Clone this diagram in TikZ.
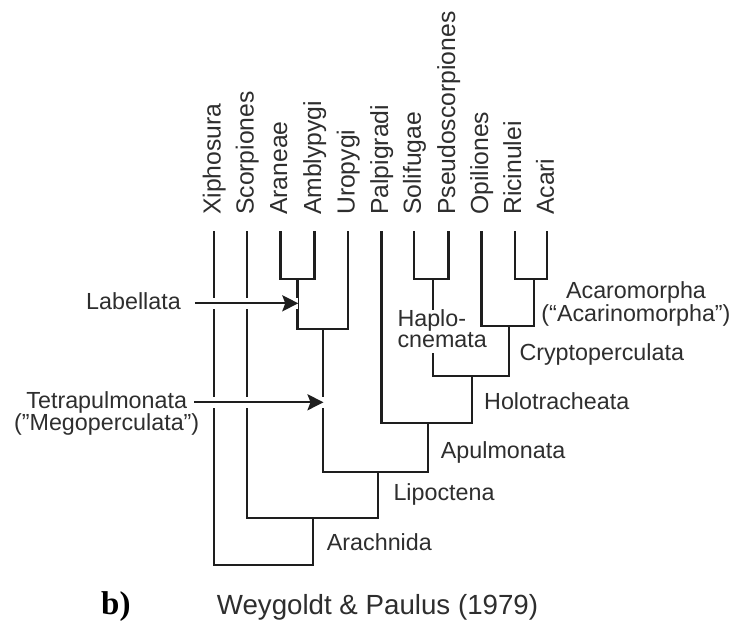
\documentclass[tikz,border=0pt]{standalone}
\usepackage{fontspec}
\setmainfont{Liberation Sans}
\newfontfamily\timesfam{Liberation Serif}
\usetikzlibrary{arrows.meta}
\definecolor{ink}{HTML}{1E1E1E}
\definecolor{txt}{HTML}{2E2E2E}
\begin{document}
\begin{tikzpicture}[x=1pt,y=-1pt,
  br/.style={draw=ink,line width=2.3pt,line cap=rect,line join=miter},
  lab/.style={inner sep=0pt,text=txt,font=\fontsize{23.3}{23.3}\selectfont},
  leaf/.style={inner sep=0pt,text=txt,rotate=90,anchor=base west,font=\fontsize{24.7}{24.7}\selectfont},
  arr/.style={draw=ink,line width=2.3pt,-{Stealth[length=16pt,width=16pt,inset=3pt]},
    preaction={draw=white,line width=11pt,-}}]
\useasboundingbox[fill=white] (0,0) rectangle (737,621);
% leaf coordinates (tops)
\foreach \n/\x in {xi/214,sc/247,ar/280.6,am/314.5,ur/348,pa/381.5,so/414.3,ps/448.5,op/481.5,ri/514.7,ac/547.3}{
  \coordinate (\n) at (\x,232);
}
% leaf labels
\node[leaf] (lxi) at (220.5,215) {Xiphosura};
\node[leaf] (lsc) at (253.5,215) {Scorpiones};
\node[leaf] (lar) at (287.1,215) {Araneae};
\node[leaf] (lam) at (321,215) {Amblypygi};
\node[leaf] (lur) at (354.5,215) {Uropygi};
\node[leaf] (lpa) at (388,215) {Palpigradi};
\node[leaf] (lso) at (420.8,215) {Solifugae};
\node[leaf] (lps) at (455,215) {Pseudoscorpiones};
\node[leaf] (lop) at (488,215) {Opiliones};
\node[leaf] (lri) at (521.2,215) {Ricinulei};
\node[leaf] (lac) at (553.8,215) {Acari};
% internal node coordinates
\coordinate (lab) at (297.5,279);
\coordinate (tet) at (323,329.3);
\coordinate (hap) at (433,279);
\coordinate (acm) at (534,279);
\coordinate (cry) at (509.3,326);
\coordinate (hol) at (471.7,376);
\coordinate (apu) at (428.3,423.3);
\coordinate (lip) at (378.3,471.7);
\coordinate (ara) at (313.3,518.3);
\coordinate (root) at (313.3,565);
\coordinate (hapa) at (433,309);
\coordinate (hapb) at (433,354);
% branches
\draw[br] (ar) |- (lab) -| (am);
\draw[br] (so) |- (hap) -| (ps);
\draw[br] (ri) |- (acm) -| (ac);
\draw[br] (lab) |- (tet) -| (ur);
\draw[br] (op) |- (cry) -| (acm);
\draw[br] (hap) -- (hapa);
\draw[br] (hapb) |- (hol) -| (cry);
\draw[br] (pa) |- (apu) -| (hol);
\draw[br] (tet) |- (lip) -| (apu);
\draw[br] (sc) |- (ara) -| (lip);
\draw[br] (xi) |- (root) -- (ara);
% arrows
\node[lab,anchor=base west] (tlab) at (86,309.3) {Labellata};
\coordinate (labtip) at (298.3,303.3);
\draw[arr] (tlab.east |- labtip) ++(14,0) -- (labtip);
\node[lab,anchor=base] (ttet1) at (106.7,408.3) {Tetrapulmonata};
\node[lab,anchor=base] (ttet2) at (106.7,430) {("Megoperculata”)};
\coordinate (tettip) at (323.5,402.3);
\draw[arr] (194,402.3) -- (tettip);
% clade labels
\node[lab,align=left,anchor=base west,font=\fontsize{23.3}{18.5}\selectfont] (thap) at (397.3,347.5) {Haplo-\\cnemata};
\node[lab,anchor=base] (tacm1) at (636,298.5) {Acaromorpha};
\node[lab,anchor=base] (tacm2) at (636,321.7) {(“Acarinomorpha”)};
\node[lab,anchor=base west] (tcry) at (519.3,360) {Cryptoperculata};
\node[lab,anchor=base west] (thol) at (484,409.5) {Holotracheata};
\node[lab,anchor=base west] (tapu) at (440.7,458.3) {Apulmonata};
\node[lab,anchor=base west] (tlip) at (393.3,500.5) {Lipoctena};
\node[lab,anchor=base west] (tara) at (326.7,550.7) {Arachnida};
% caption
\node[inner sep=0pt,anchor=base,text=txt,font=\fontsize{27.7}{27.7}\selectfont] (title) at (377.5,614) {Weygoldt \& Paulus (1979)};
\node[inner sep=0pt,anchor=base west,font=\timesfam\bfseries\fontsize{33}{33}\selectfont] (bl) at (101,614) {b)};
\end{tikzpicture}
\end{document}
